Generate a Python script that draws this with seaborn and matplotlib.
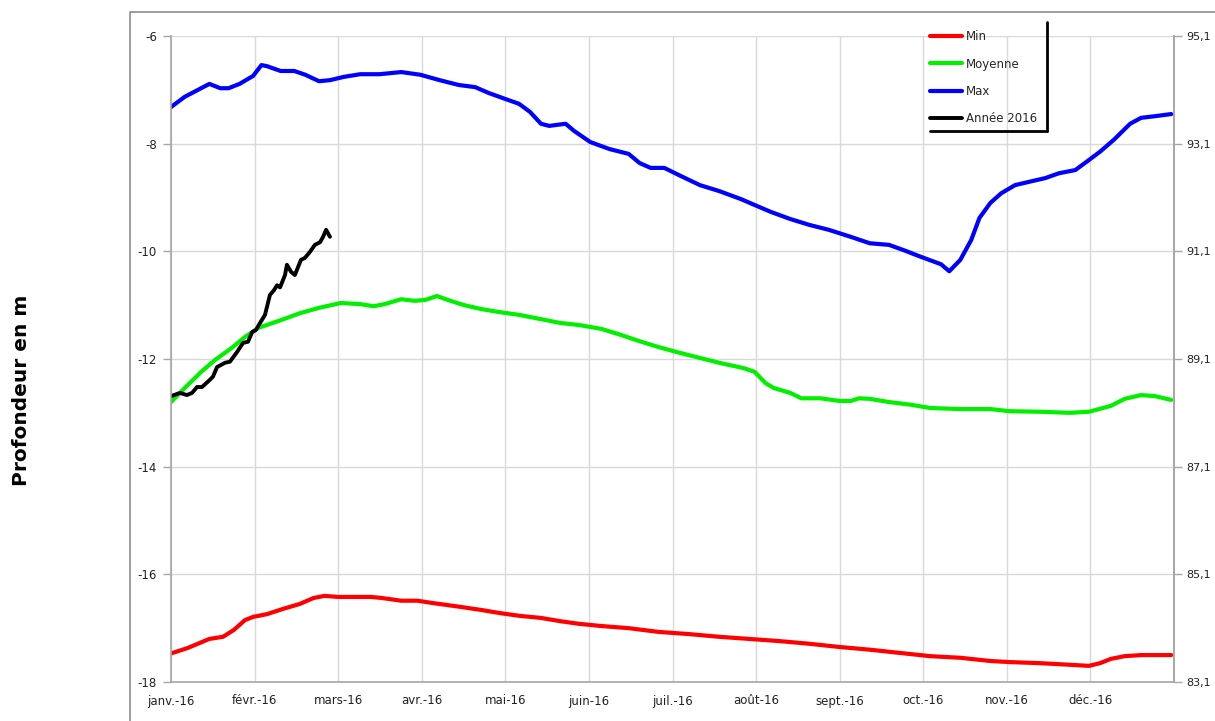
import matplotlib
matplotlib.use("Agg")
import matplotlib.pyplot as plt
from matplotlib.lines import Line2D
import numpy as np
import seaborn as sns

# ── Data (jour de l'année 2016 / profondeur en m) ────────────────────────────
mois = ["janv.-16", "févr.-16", "mars-16", "avr.-16", "mai-16", "juin-16",
        "juil.-16", "août-16", "sept.-16", "oct.-16", "nov.-16", "déc.-16"]

max_jours = [0, 5, 11, 14, 18, 21, 25, 30, 33, 35, 40, 45, 49, 54, 58, 63, 69,
             76, 84, 91, 98, 105, 111, 116, 122, 127, 131, 135, 138, 144, 147,
             153, 160, 167, 171, 175, 180, 186, 193, 200, 208, 213, 219, 226,
             233, 240, 248, 255, 262, 268, 273, 281, 284, 288, 292, 295, 299,
             303, 308, 313, 319, 324, 330, 334, 339, 344, 350, 354, 359, 365]
max_vals = [-7.32, -7.13, -6.97, -6.89, -6.97, -6.97, -6.89, -6.74, -6.54,
            -6.56, -6.65, -6.65, -6.72, -6.84, -6.82, -6.76, -6.71, -6.71,
            -6.67, -6.72, -6.82, -6.91, -6.95, -7.06, -7.17, -7.26, -7.41,
            -7.63, -7.67, -7.63, -7.76, -7.97, -8.10, -8.19, -8.36, -8.45,
            -8.45, -8.60, -8.77, -8.88, -9.03, -9.14, -9.27, -9.40, -9.51,
            -9.60, -9.73, -9.85, -9.88, -9.99, -10.09, -10.24, -10.37, -10.16,
            -9.79, -9.38, -9.10, -8.92, -8.77, -8.71, -8.64, -8.55, -8.49,
            -8.34, -8.15, -7.93, -7.63, -7.52, -7.49, -7.45]

moy_jours = [0, 5, 11, 16, 22, 27, 32, 40, 47, 54, 62, 69, 74, 78, 84, 89, 93,
             97, 102, 107, 113, 120, 127, 135, 142, 149, 157, 164, 171, 178,
             186, 193, 200, 209, 213, 217, 220, 226, 230, 237, 244, 248, 251,
             255, 262, 270, 277, 288, 299, 306, 317, 328, 335, 343, 348, 354,
             359, 365]
moy_vals = [-12.80, -12.54, -12.24, -12.02, -11.80, -11.59, -11.42, -11.28,
            -11.15, -11.05, -10.96, -10.98, -11.02, -10.98, -10.89, -10.92,
            -10.90, -10.83, -10.92, -11.00, -11.07, -11.13, -11.18, -11.26,
            -11.33, -11.37, -11.44, -11.55, -11.67, -11.78, -11.89, -11.98,
            -12.07, -12.17, -12.24, -12.45, -12.54, -12.63, -12.73, -12.73,
            -12.78, -12.78, -12.73, -12.74, -12.80, -12.85, -12.91, -12.93,
            -12.93, -12.97, -12.98, -13.00, -12.98, -12.87, -12.74, -12.67,
            -12.69, -12.76]

min_jours = [0, 6, 14, 19, 23, 27, 30, 35, 41, 47, 52, 56, 61, 73, 77, 84, 90,
             95, 105, 113, 120, 127, 135, 142, 149, 157, 167, 178, 189, 200,
             211, 222, 233, 244, 255, 266, 277, 288, 299, 306, 317, 328, 335,
             339, 343, 348, 354, 365]
min_vals = [-17.47, -17.37, -17.20, -17.16, -17.03, -16.85, -16.79, -16.74,
            -16.64, -16.55, -16.44, -16.40, -16.42, -16.42, -16.44, -16.49,
            -16.49, -16.53, -16.60, -16.66, -16.72, -16.77, -16.81, -16.87,
            -16.92, -16.96, -17.00, -17.07, -17.11, -17.16, -17.20, -17.24,
            -17.29, -17.35, -17.40, -17.46, -17.52, -17.55, -17.61, -17.63,
            -17.65, -17.68, -17.70, -17.65, -17.57, -17.52, -17.50, -17.50]

an2016_jours = [0.0, 3.3, 5.8, 7.7, 9.5, 11.3, 13.5, 15.3, 16.8, 19.7, 21.5,
                24.1, 26.3, 28.1, 29.6, 31.0, 32.5, 34.3, 36.1, 37.6, 38.7,
                39.8, 41.6, 42.3, 43.8, 45.2, 47.4, 48.9, 50.7, 52.5, 54.4,
                55.5, 56.6, 58.0]
an2016_vals = [-12.69, -12.63, -12.67, -12.63, -12.52, -12.52, -12.42, -12.33,
               -12.15, -12.07, -12.05, -11.87, -11.70, -11.68, -11.50, -11.46,
               -11.33, -11.18, -10.81, -10.72, -10.63, -10.67, -10.44, -10.25,
               -10.38, -10.44, -10.16, -10.12, -10.01, -9.88, -9.83, -9.73,
               -9.60, -9.73]

cote_sol = 101.1  # profondeur -> cote (axe de droite)

# ── Style ─────────────────────────────────────────────────────────────────────
sns.set_style("white")
plt.rcParams["font.family"] = ["DejaVu Sans"]
GRID = "#D9D9D9"
SPINE = "#A6A6A6"
TXT = "#222222"

fig = plt.figure(figsize=(12.15, 7.21), dpi=100)
ax = fig.add_axes([171 / 1215, 1 - 682 / 721, (1174 - 171) / 1215, 646 / 721])

series = [
    ("Min", min_jours, min_vals, "#FF0000", 3.0),
    ("Moyenne", moy_jours, moy_vals, "#00F000", 3.0),
    ("Max", max_jours, max_vals, "#0000FF", 3.0),
    ("Année 2016", an2016_jours, an2016_vals, "#000000", 2.8),
]
for label, xs, ys, color, lw in series:
    sns.lineplot(x=xs, y=ys, ax=ax, color=color, lw=lw, label=label,
                 solid_joinstyle="round", solid_capstyle="round")

ax.set_xlim(0, 366)
ax.set_ylim(-18, -6)
ax.set_yticks(np.arange(-18, -5, 2))
ax.set_yticklabels([f"{v}" for v in range(-18, -5, 2)])
ax.set_xticks(np.linspace(0, 366, 13)[:-1])
ax.set_xticklabels(mois)
ax.grid(True, color=GRID, lw=1)
ax.set_axisbelow(True)
for side in ("left", "bottom", "right"):
    ax.spines[side].set_color(SPINE)
    ax.spines[side].set_linewidth(1.2)
ax.spines["top"].set_visible(False)
ax.tick_params(axis="both", direction="out", length=6, width=1,
               color=SPINE, labelsize=8.5, labelcolor=TXT, pad=4)
ax.tick_params(axis="x", pad=3)
ax.set_xlabel("")
ax.set_ylabel("")

ax2 = ax.twinx()
ax2.set_ylim(-18 + cote_sol, -6 + cote_sol)
r_ticks = np.arange(-18, -5, 2) + cote_sol
ax2.set_yticks(r_ticks)
ax2.set_yticklabels([f"{v:.1f}".replace(".", ",") for v in r_ticks])
for side in ("left", "top", "bottom"):
    ax2.spines[side].set_visible(False)
ax2.spines["right"].set_color(SPINE)
ax2.spines["right"].set_linewidth(1.2)
ax2.tick_params(axis="y", direction="out", length=6, width=1, color=SPINE,
                labelsize=8, labelcolor=TXT, pad=3)

# Legend (transparent, Excel-like shadow on right and bottom)
handles, labels = ax.get_legend_handles_labels()
ax.get_legend().remove()
leg = ax2.legend(handles, labels, loc="upper left",
                 bbox_to_anchor=(928 / 1215, 1 - 28 / 721),
                 bbox_transform=fig.transFigure, frameon=False, fontsize=8.5,
                 handlelength=2.7, handletextpad=0.35, labelspacing=1.2,
                 borderaxespad=0, borderpad=0.2)
fig.add_artist(Line2D([1047 / 1215, 1047 / 1215], [1 - 22 / 721, 1 - 131 / 721],
                      color="black", lw=2, transform=fig.transFigure))
fig.add_artist(Line2D([930 / 1215, 1047 / 1215], [1 - 131 / 721, 1 - 131 / 721],
                      color="black", lw=2, transform=fig.transFigure))

# Chart-area border (top-left corner visible)
fig.add_artist(Line2D([130 / 1215, 130 / 1215, 1.0], [0.0, 1 - 12 / 721, 1 - 12 / 721],
                      color="#8C8C8C", lw=1.2, transform=fig.transFigure))

fig.text(22 / 1215, 1 - 390 / 721, "Profondeur en m", rotation=90,
         ha="center", va="center", fontsize=14.5, fontweight="bold",
         color="black")

fig.savefig("out.png", dpi=100)
